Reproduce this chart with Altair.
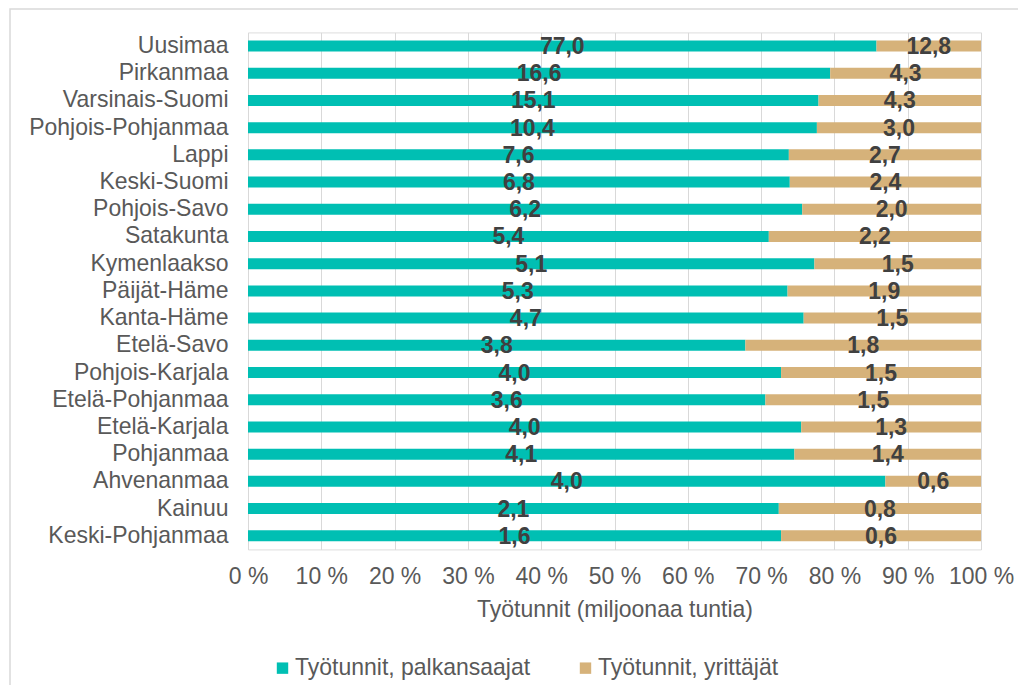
import altair as alt
import pandas as pd

regions = ["Uusimaa", "Pirkanmaa", "Varsinais-Suomi", "Pohjois-Pohjanmaa", "Lappi",
           "Keski-Suomi", "Pohjois-Savo", "Satakunta", "Kymenlaakso", "Päijät-Häme",
           "Kanta-Häme", "Etelä-Savo", "Pohjois-Karjala", "Etelä-Pohjanmaa",
           "Etelä-Karjala", "Pohjanmaa", "Ahvenanmaa", "Kainuu", "Keski-Pohjanmaa"]
palkansaajat = [77.0, 16.6, 15.1, 10.4, 7.6, 6.8, 6.2, 5.4, 5.1, 5.3, 4.7, 3.8, 4.0, 3.6,
                4.0, 4.1, 4.0, 2.1, 1.6]
yrittajat = [12.8, 4.3, 4.3, 3.0, 2.7, 2.4, 2.0, 2.2, 1.5, 1.9, 1.5, 1.8, 1.5, 1.5,
             1.3, 1.4, 0.6, 0.8, 0.6]
series_names = ["Työtunnit, palkansaajat", "Työtunnit, yrittäjät"]
series_colors = ["#00BFB3", "#D6B27A"]
x_ticks = [0, 0.1, 0.2, 0.3, 0.4, 0.5, 0.6, 0.7, 0.8, 0.9, 1.0]

rows = []
for r, p, y in zip(regions, palkansaajat, yrittajat):
    rows.append({"region": r, "series": series_names[0], "value": p, "order": 0})
    rows.append({"region": r, "series": series_names[1], "value": y, "order": 1})
df = pd.DataFrame(rows)

FONT = "Liberation Sans"
FS = 23
GREY = "#595959"

base = (
    alt.Chart(df)
    .transform_joinaggregate(total="sum(value)", groupby=["region"])
    .transform_calculate(frac="datum.value / datum.total")
    .transform_window(cum="sum(frac)", groupby=["region"], sort=[alt.SortField("order")])
    .transform_calculate(
        start="datum.cum - datum.frac",
        mid="datum.cum - datum.frac / 2",
        label="replace(format(datum.value, '.1f'), '.', ',')",
    )
)

yenc = alt.Y(
    "region:N", sort=regions,
    axis=alt.Axis(title=None, domain=False, ticks=False, grid=False,
                  labelFontSize=FS, labelColor=GREY, labelPadding=20, labelLimit=400,
                  labelFont=FONT),
)

bars = base.mark_bar(size=11).encode(
    y=yenc,
    x=alt.X(
        "start:Q",
        scale=alt.Scale(domain=[0, 1], nice=False),
        axis=alt.Axis(
            values=x_ticks, labelExpr="round(datum.value * 100) + ' %'",
            labelOverlap=False, labelFlush=False,
            grid=True, gridColor="#D9D9D9", domain=False, ticks=False,
            labelFontSize=FS, labelColor=GREY, labelPadding=16, labelFont=FONT,
            title="Työtunnit (miljoonaa tuntia)", titleFontSize=FS,
            titleFontWeight="normal", titleColor=GREY, titlePadding=10, titleFont=FONT,
        ),
    ),
    x2="cum:Q",
    color=alt.Color(
        "series:N",
        scale=alt.Scale(domain=series_names, range=series_colors),
        legend=alt.Legend(
            title=None, orient="none", legendX=23, legendY=624, direction="horizontal",
            symbolType="square", symbolSize=130, symbolStrokeWidth=0,
            labelFontSize=FS, labelColor=GREY, labelFont=FONT,
            columnPadding=43, labelOffset=1, labelLimit=400,
        ),
    ),
    order=alt.Order("order:Q"),
)

text = base.mark_text(
    font=FONT, fontSize=FS, fontWeight="bold", color="#404040", baseline="middle", dy=1
).encode(
    y=alt.Y("region:N", sort=regions),
    x=alt.X("mid:Q"),
    text="label:N",
)

border = alt.Chart(alt.Data(values=[{}])).mark_rect(
    fill=None, stroke="#D9D9D9", strokeWidth=1.5
).encode(
    x=alt.value(-238), x2=alt.value(800), y=alt.value(-23.4), y2=alt.value(700)
)

chart = (
    alt.layer(border, bars, text)
    .properties(
        width=733, height=517,
        autosize=alt.AutoSizeParams(type="none"),
        padding={"left": 240, "top": 24.4, "right": 37, "bottom": 136},
    )
    .configure_view(stroke=None)
    .configure(font=FONT)
)

chart.save("out.html", embed_options={"renderer": "svg", "actions": False})
